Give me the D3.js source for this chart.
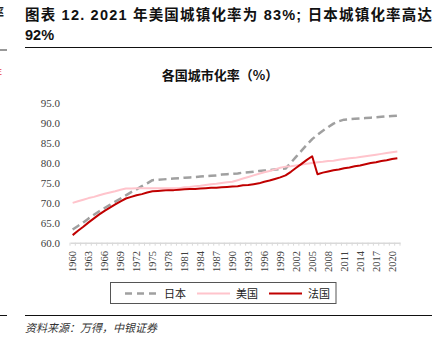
<!DOCTYPE html>
<html>
<head>
<meta charset="utf-8">
<script src="https://cdn.jsdelivr.net/npm/d3@7"></script>
<style>
  body { margin: 0; background: #fff; }
  svg { display: block; }
</style>
</head>
<body>
<div class="container"></div>
<script>
// canvas size
const width = 443;
const height = 351;

// years on the category axis
const years = d3.range(1960, 2022);

// urbanisation rate (%) per year
const japan = [63.3, 64.2, 65.1, 66.1, 67.0, 67.9, 68.7, 69.5, 70.3, 71.1,
  71.9, 72.7, 73.4, 74.2, 74.9, 75.7, 75.8, 75.9, 76.0, 76.1,
  76.2, 76.3, 76.4, 76.5, 76.6, 76.7, 76.8, 76.9, 77.1, 77.2,
  77.3, 77.4, 77.6, 77.7, 77.8, 78.0, 78.1, 78.2, 78.4, 78.5,
  78.6, 80.1, 81.6, 83.1, 84.6, 86.0, 87.1, 88.1, 89.0, 89.9,
  90.5, 90.9, 91.0, 91.1, 91.2, 91.3, 91.4, 91.5, 91.6, 91.7,
  91.8, 91.9];
const usa = [70.0, 70.4, 70.8, 71.2, 71.5, 71.9, 72.3, 72.6, 72.9, 73.3,
  73.6, 73.6, 73.7, 73.7, 73.7, 73.7, 73.7, 73.7, 73.7, 73.7,
  73.7, 73.9, 74.0, 74.2, 74.3, 74.5, 74.7, 74.8, 75.0, 75.2,
  75.3, 75.7, 76.1, 76.5, 76.9, 77.3, 77.7, 78.0, 78.4, 78.8,
  79.1, 79.2, 79.4, 79.6, 79.8, 80.0, 80.2, 80.3, 80.5, 80.6,
  80.8, 81.0, 81.2, 81.3, 81.5, 81.7, 81.9, 82.1, 82.3, 82.5,
  82.7, 82.9];
const france = [61.9, 63.0, 64.0, 65.1, 66.1, 67.1, 68.0, 68.8, 69.6, 70.4,
  71.1, 71.5, 71.9, 72.2, 72.6, 72.9, 73.0, 73.1, 73.2, 73.2,
  73.3, 73.4, 73.5, 73.5, 73.6, 73.7, 73.8, 73.8, 73.9, 74.0,
  74.1, 74.2, 74.4, 74.5, 74.7, 74.9, 75.3, 75.6, 76.0, 76.4,
  76.9, 77.8, 78.8, 79.8, 80.8, 81.7, 77.2, 77.6, 77.9, 78.2,
  78.4, 78.7, 78.9, 79.2, 79.4, 79.7, 80.0, 80.2, 80.5, 80.7,
  81.0, 81.2];

const seriesNames = ["日本", "美国", "法国"];
const yTicks = [60, 65, 70, 75, 80, 85, 90, 95];
const xLabelYears = years.filter(y => (y - 1960) % 3 === 0);

const serif = "'Liberation Serif', 'DejaVu Serif', serif";
const cjk = "'Noto Sans CJK SC', sans-serif";

const svg = d3.select(".container")
  .append("svg")
  .attr("width", width)
  .attr("height", height);

// bits of the neighbouring page column, cut off at the left edge (as in the source page)
svg.append("text")
  .attr("x", -9).attr("y", 17)
  .attr("font-family", cjk).attr("font-size", 13).attr("font-weight", "bold")
  .attr("fill", "#222")
  .text("率");
svg.append("line")
  .attr("x1", 0).attr("x2", 7).attr("y1", 50).attr("y2", 50)
  .attr("stroke", "#999").attr("stroke-width", 2);
svg.append("text")
  .attr("x", -4).attr("y", 75)
  .attr("font-family", "'Liberation Sans', sans-serif").attr("font-size", 9)
  .attr("fill", "#e8403a")
  .text("E");
svg.append("line")
  .attr("x1", 0).attr("x2", 7).attr("y1", 315.5).attr("y2", 315.5)
  .attr("stroke", "#111").attr("stroke-width", 1);

// page title, two lines
const title = svg.append("text")
  .attr("font-family", "'Liberation Sans', " + cjk)
  .attr("font-size", 14.5)
  .attr("font-weight", "bold")
  .attr("fill", "#111");
title.append("tspan").attr("x", 25).attr("y", 20)
  .attr("textLength", 407)
  .attr("lengthAdjust", "spacing")
  .text("图表 12. 2021 年美国城镇化率为 83%; 日本城镇化率高达");
title.append("tspan").attr("x", 25).attr("y", 40)
  .text("92%");

svg.append("line")
  .attr("x1", 25).attr("x2", 432).attr("y1", 47.5).attr("y2", 47.5)
  .attr("stroke", "#111").attr("stroke-width", 1);

// chart title
svg.append("text")
  .attr("x", 220).attr("y", 80)
  .attr("text-anchor", "middle")
  .attr("font-family", cjk)
  .attr("font-size", 13)
  .attr("font-weight", "bold")
  .attr("fill", "#111")
  .text("各国城市化率（%）");

// scales
const xScale = d3.scaleBand()
  .domain(years)
  .range([70, 400]);

const yScale = d3.scaleLinear()
  .domain([60, 95])
  .range([242.7, 103.3]);

// y axis: labels only
const yAxis = svg.append("g")
  .attr("transform", "translate(70, 0)")
  .call(d3.axisLeft(yScale).tickValues(yTicks).tickFormat(d3.format(".1f")).tickSize(0).tickPadding(10));
yAxis.select(".domain").remove();
yAxis.selectAll("text")
  .attr("font-family", serif)
  .attr("font-size", 11)
  .attr("fill", "#404040");

// x axis: line plus a tick for every year
const xAxis = svg.append("g")
  .attr("transform", `translate(0, ${yScale(60)})`)
  .call(d3.axisBottom(xScale).tickValues([]).tickSizeOuter(0));
xAxis.select(".domain").attr("stroke", "#d9d9d9").attr("stroke-width", 1.5);

svg.append("g")
  .selectAll("line")
  .data(years.concat([2022]))
  .join("line")
  .attr("x1", d => d === 2022 ? 400 : xScale(d))
  .attr("x2", d => d === 2022 ? 400 : xScale(d))
  .attr("y1", yScale(60))
  .attr("y2", yScale(60) + 3)
  .attr("stroke", "#d9d9d9")
  .attr("stroke-width", 1);

// rotated year labels
svg.append("g")
  .selectAll("text")
  .data(xLabelYears)
  .join("text")
  .attr("transform", d => `translate(${xScale(d) + xScale.bandwidth() / 2 + 3.5}, 251) rotate(-90)`)
  .attr("text-anchor", "end")
  .attr("font-family", serif)
  .attr("font-size", 10.5)
  .attr("fill", "#404040")
  .text(d => d);

// lines
const line = d3.line()
  .x((d, i) => xScale(years[i]) + xScale.bandwidth() / 2)
  .y(d => yScale(d));

const styles = [
  { data: japan, color: "#a0a0a0", width: 2.5, dash: "8,4.5" },
  { data: usa, color: "#ffc4cc", width: 2, dash: null },
  { data: france, color: "#c00000", width: 2, dash: null }
];

svg.append("g")
  .selectAll("path")
  .data(styles)
  .join("path")
  .attr("d", d => line(d.data))
  .attr("fill", "none")
  .attr("stroke", d => d.color)
  .attr("stroke-width", d => d.width)
  .attr("stroke-dasharray", d => d.dash)
  .attr("stroke-linejoin", "round");

// legend
svg.append("rect")
  .attr("x", 110.5).attr("y", 282.5)
  .attr("width", 225.5).attr("height", 21)
  .attr("fill", "#fff")
  .attr("stroke", "#555")
  .attr("stroke-width", 1);

const legendX = [125, 197, 269];
const legend = svg.append("g")
  .selectAll("g")
  .data(styles)
  .join("g")
  .attr("transform", (d, i) => `translate(${legendX[i]}, 293.5)`);

legend.append("line")
  .attr("x1", 0).attr("x2", 33)
  .attr("stroke", d => d.color)
  .attr("stroke-width", d => d.width)
  .attr("stroke-dasharray", d => d.dash ? "7,5" : null);

legend.append("text")
  .attr("x", 39).attr("y", 4)
  .attr("font-family", cjk)
  .attr("font-size", 11)
  .attr("fill", "#222")
  .text((d, i) => seriesNames[i]);

// bottom rule and source note
svg.append("line")
  .attr("x1", 25).attr("x2", 432).attr("y1", 315.5).attr("y2", 315.5)
  .attr("stroke", "#111").attr("stroke-width", 1);

svg.append("text")
  .attr("x", 25).attr("y", 332)
  .attr("font-family", cjk)
  .attr("font-size", 11)
  .attr("font-style", "italic")
  .attr("fill", "#333")
  .text("资料来源：万得，中银证券");
</script>
</body>
</html>
